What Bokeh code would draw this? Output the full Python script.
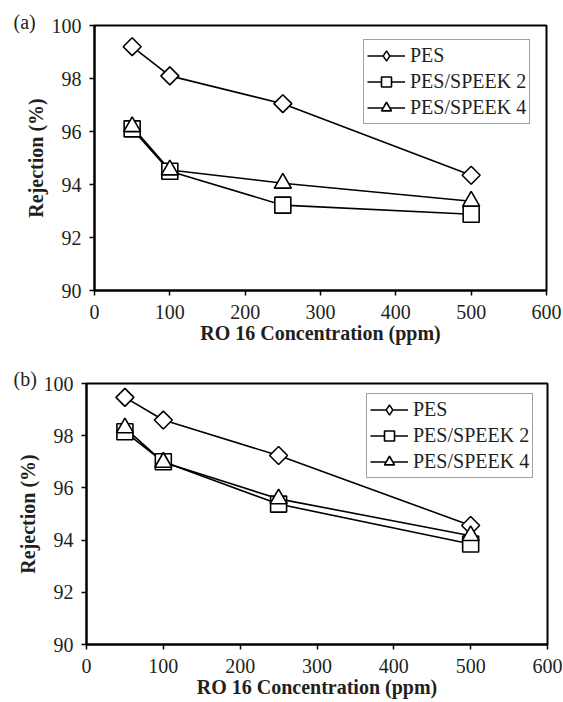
import numpy as np
from bokeh.plotting import figure
from bokeh.layouts import column, row
from bokeh.models import Range1d, FixedTicker, Legend, LegendItem, Title
from bokeh.embed import file_html
from bokeh.resources import INLINE

# ---------------- data ----------------
conc = [50, 100, 250, 500]
series_names = ["PES", "PES/SPEEK 2", "PES/SPEEK 4"]

a_pes = [99.2, 98.1, 97.05, 94.35]
a_speek2 = [96.1, 94.5, 93.22, 92.88]
a_speek4 = [96.18, 94.55, 94.05, 93.37]

b_pes = [99.47, 98.6, 97.24, 94.56]
b_speek2 = [98.15, 97.0, 95.38, 93.85]
b_speek4 = [98.3, 96.98, 95.58, 94.17]

x_ticks = [0, 100, 200, 300, 400, 500, 600]
y_ticks = [90, 92, 94, 96, 98, 100]
panel_labels = ["(a)", "(b)"]
x_title = "RO 16 Concentration (ppm)"
y_title = "Rejection (%)"

FONT = "Liberation Serif"
TXT = "#231f20"
FS = "20px"

# (marker, angle, size) for the plotted points
markers = [("square", np.pi / 4, 12.7), ("square", 0.0, 16), ("triangle", 0.0, 17)]


def make_panel(series, tag, fw, fh, bl, br, bt, bb, leg_loc, tag_offset, tag_standoff):
    p = figure(frame_width=fw, frame_height=fh,
               min_border_left=bl, min_border_right=br,
               min_border_top=bt, min_border_bottom=bb,
               x_range=Range1d(0, 600), y_range=Range1d(90, 100),
               output_backend="svg", toolbar_location=None,
               background_fill_color="white", border_fill_color="white")
    p.grid.visible = False
    p.outline_line_color = "black"
    p.outline_line_width = 2

    for ax in (p.xaxis[0], p.yaxis[0]):
        ax.axis_line_width = 2
        ax.axis_line_color = "black"
        ax.major_tick_line_width = 1.5
        ax.major_tick_line_color = "black"
        ax.major_tick_in = 0
        ax.major_tick_out = 5
        ax.minor_tick_line_color = None
        ax.major_label_text_font = FONT
        ax.major_label_text_font_size = FS
        ax.major_label_text_color = TXT
        ax.axis_label_text_font = FONT
        ax.axis_label_text_font_size = FS
        ax.axis_label_text_font_style = "bold"
        ax.axis_label_text_color = TXT

    p.xaxis[0].ticker = FixedTicker(ticks=x_ticks)
    p.yaxis[0].ticker = FixedTicker(ticks=y_ticks)
    p.xaxis[0].axis_label = x_title
    p.yaxis[0].axis_label = y_title
    p.xaxis[0].major_label_standoff = 9
    p.xaxis[0].axis_label_standoff = 0
    p.yaxis[0].major_label_standoff = 8
    p.yaxis[0].axis_label_standoff = 2

    lines = []
    for vals in series:
        lines.append(p.line(conc, vals, line_color="black", line_width=1.6))
    # legend-only diamond glyph (size 0 on the chart; the legend sizes it itself)
    dummy = p.scatter(conc, series[0], marker="diamond", size=0, fill_color="white",
                      line_color="black", line_width=1.4)
    pts = []
    for vals, (mk, ang, sz) in zip(series, markers):
        pts.append(p.scatter(conc, vals, marker=mk, angle=ang, size=sz,
                             fill_color="white", line_color="black", line_width=1.6))

    items = [LegendItem(label=series_names[0], renderers=[lines[0], dummy]),
             LegendItem(label=series_names[1], renderers=[lines[1], pts[1]]),
             LegendItem(label=series_names[2], renderers=[lines[2], pts[2]])]
    lg = Legend(items=items, location=leg_loc)
    lg.label_text_font = FONT
    lg.label_text_font_size = FS
    lg.label_text_color = TXT
    lg.glyph_width = 38
    lg.glyph_height = 25
    lg.label_height = 25
    lg.label_width = 100
    lg.label_standoff = 5
    lg.spacing = 1
    lg.padding = 3
    lg.margin = 0
    lg.border_line_color = "#444444"
    lg.border_line_width = 1
    lg.background_fill_color = "white"
    lg.background_fill_alpha = 1
    p.add_layout(lg, "center")

    p.add_layout(Title(text=tag, align="left", offset=tag_offset, standoff=tag_standoff,
                       text_font=FONT, text_font_size=FS,
                       text_font_style="normal", text_color=TXT), "above")
    return p


pa = make_panel([a_pes, a_speek2, a_speek4], panel_labels[0],
                452, 265, 94, 17, 25, 58, (269, 166), -81, -15)
pb = make_panel([b_pes, b_speek2, b_speek4], panel_labels[1],
                461, 261, 86, 16, 35, 57, (280, 166), -73, -12)

layout = column(row(pa), row(pb), spacing=0)
open("out.html", "w").write(file_html(layout, INLINE))
